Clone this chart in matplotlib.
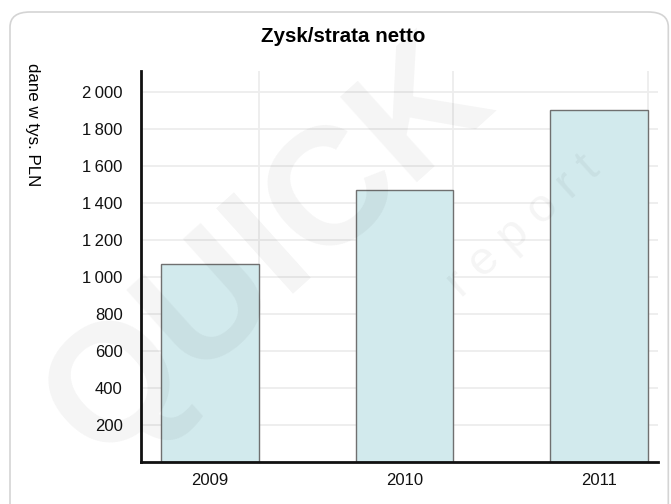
import matplotlib
matplotlib.use("Agg")
import matplotlib.pyplot as plt
from matplotlib.patches import FancyBboxPatch
from matplotlib.ticker import FuncFormatter

years = ["2009", "2010", "2011"]
values = [1072, 1469, 1904]
yticks = [200, 400, 600, 800, 1000, 1200, 1400, 1600, 1800, 2000]

plt.rcParams['font.family'] = ['Liberation Sans', 'DejaVu Sans']

fig = plt.figure(figsize=(6.71, 5.04), dpi=100)

# rounded frame of the panel (bottom runs off the picture)
frame = FancyBboxPatch((10 / 671, -0.05), 1 - 10 / 671 - 0.004, 1 - 12 / 504 + 0.05,
                       boxstyle="round,pad=0,rounding_size=0.03",
                       transform=fig.transFigure, facecolor='none',
                       edgecolor='#d4d4d4', linewidth=1.2, zorder=-5)
fig.patches.append(frame)

ax = fig.add_axes([140.7 / 671, 1 - 461.7 / 504, (658 - 140.7) / 671, (461.7 - 71) / 504])
ax.patch.set_alpha(0)

x = range(len(years))
ax.bar(x, values, width=0.5, color='#d2eaed', edgecolor='#707070', linewidth=1, zorder=3)

ax.set_xlim(-0.356, 2.303)
ax.set_ylim(0, 2115)
ax.set_yticks(yticks)
ax.yaxis.set_major_formatter(FuncFormatter(lambda v, p: f"{int(v):,}".replace(",", "\u2009")))
ax.set_xticks(list(x))
ax.set_xticklabels(years)

for yv in yticks:
    ax.axhline(yv, color='#ededed', linewidth=1.3, zorder=1)
for xv in [0.25, 1.25, 2.25]:
    ax.axvline(xv, color='#ededed', linewidth=1.3, zorder=1)

ax.tick_params(axis='both', length=0, labelsize=12, colors='#111111')
ax.tick_params(axis='y', pad=13)
ax.tick_params(axis='x', pad=8)
for s in ['top', 'right']:
    ax.spines[s].set_visible(False)
for s in ['left', 'bottom']:
    ax.spines[s].set_linewidth(2)
    ax.spines[s].set_color('#111111')
    ax.spines[s].set_zorder(4)

fig.text(343 / 671, 1 - 37 / 504, "Zysk/strata netto", ha='center', va='center',
         fontsize=14.8, fontweight='bold')
fig.text(32.5 / 671, 1 - 63 / 504, "dane w tys. PLN", ha='center', va='top',
         rotation=270, fontsize=12.2)

# faint watermark
fig.text(0.40, 0.50, "QUICK", ha='center', va='center', rotation=42,
         fontsize=120, fontweight='bold', color='black', alpha=0.045, zorder=10)
fig.text(0.78, 0.55, "r e p o r t", ha='center', va='center', rotation=42,
         fontsize=34, color='black', alpha=0.045, zorder=10)

fig.savefig("out.png", dpi=100)
